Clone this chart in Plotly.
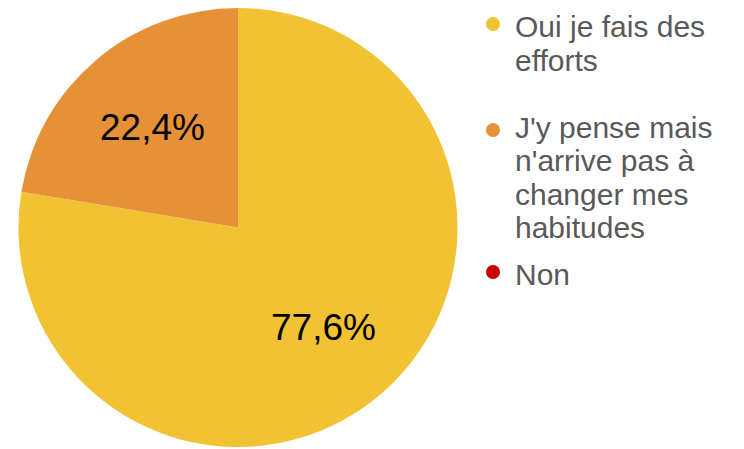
import math
import plotly.graph_objects as go

labels = ["Oui je fais des efforts", "J'y pense mais n'arrive pas à changer mes habitudes", "Non"]
legend_lines = [["Oui je fais des", "efforts"],
                ["J'y pense mais", "n'arrive pas à", "changer mes", "habitudes"],
                ["Non"]]
values = [77.6, 22.4, 0]
colors = ["#F1C232", "#E69138", "#CC0000"]

W, H = 744, 449
OFF = 8  # page body margin in the browser


def px(X):
    return (X - OFF) / W


def py(Y):
    return 1 - (Y - OFF) / H


# pie placement (reference pixel coords)
LEFT, RIGHT, TOP, BOTTOM = 18, 458, OFF, 447
cx, cy = (LEFT + RIGHT) / 2, (TOP + BOTTOM) / 2
R = min(RIGHT - LEFT, BOTTOM - TOP) / 2

fig = go.Figure()
fig.add_trace(go.Pie(
    labels=labels, values=values, sort=False, direction="clockwise", rotation=0,
    marker=dict(colors=colors, line=dict(width=0)),
    textinfo="none",
    domain=dict(x=[px(LEFT), px(RIGHT)], y=[py(BOTTOM), py(TOP)]),
    showlegend=False, hoverinfo="label+percent",
))

# percentage labels placed at 60% of radius on each slice bisector
total = sum(values)
cum = 0.0
for v in values:
    if v <= 0:
        continue
    mid = (cum + v / 2) / total * 2 * math.pi
    cum += v
    r = 0.6 * R
    X = cx + r * math.sin(mid)
    Y = cy - r * math.cos(mid)
    txt = f"{v / total * 100:.1f}".replace(".", ",") + "%"
    fig.add_annotation(x=px(X), y=py(Y), xref="paper", yref="paper", text=txt,
                       showarrow=False, xanchor="center", yanchor="middle",
                       font=dict(family="Liberation Sans, Arial", size=37, color="#000000"))

# legend (one text per line, tight spacing as in the reference)
LINE_GAP = 33.6
group_center = [41.5, 175.5, 272]
dot_y = [24, 130, 272]
for lines, gc, dy, col in zip(legend_lines, group_center, dot_y, colors):
    fig.add_shape(type="circle", xref="paper", yref="paper",
                  x0=px(486), x1=px(500), y0=py(dy + 7), y1=py(dy - 7),
                  fillcolor=col, line=dict(width=0))
    n = len(lines)
    for i, t in enumerate(lines):
        y = gc + (i - (n - 1) / 2) * LINE_GAP
        fig.add_annotation(x=px(513), y=py(y + 2), xref="paper", yref="paper", text=t,
                           showarrow=False, xanchor="left", yanchor="middle",
                           font=dict(family="Liberation Sans, Arial", size=30, color="#595959"))

fig.update_layout(
    width=W, height=H, margin=dict(l=0, r=0, t=0, b=0),
    paper_bgcolor="white", plot_bgcolor="white",
    showlegend=False,
)
fig.write_html("out.html")
